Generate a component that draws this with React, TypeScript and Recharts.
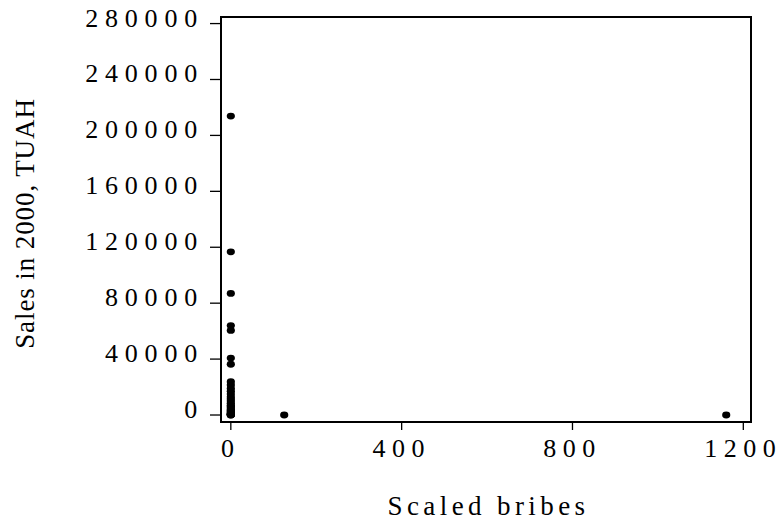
import React from 'react';
import { ScatterChart, Scatter, XAxis, YAxis, ReferenceArea, Label } from 'recharts';

const bribes = [0, 0, 0, 0, 0, 0, 0, 0, 0, 0, 0, 0, 0, 0, 0, 0, 0, 0, 0, 0, 0, 0, 0, 0, 0, 0, 0, 0, 0, 0, 125, 1160];
const sales = [213800, 116700, 87000, 64000, 60500, 40700, 36300, 23800, 21500, 19000, 17000, 15000, 13000, 11500, 10000, 8500, 7000, 6000, 5000, 4000, 3200, 2500, 1800, 1200, 800, 500, 300, 150, 50, 0, 0, 0];
const xTicks = [0, 400, 800, 1200];
const yTicks = [0, 40000, 80000, 120000, 160000, 200000, 240000, 280000];

const data = bribes.map((b, i) => ({ x: b, y: sales[i] }));

const FONT = '"Liberation Serif", "Times New Roman", serif';

const Dot = (props: any) => {
  const { cx, cy } = props;
  if (cx == null || cy == null) return null;
  return <ellipse cx={cx} cy={cy} rx={4.1} ry={3.4} fill="#000" />;
};

const XTick = (props: any) => {
  const { x, y, payload } = props;
  return (
    <text x={x} y={y} dy={25} textAnchor="middle" fontFamily={FONT} fontSize={26} letterSpacing={6.5} fill="#000">
      {payload.value}
    </text>
  );
};

const YTick = (props: any) => {
  const { x, y, payload } = props;
  return (
    <text x={x} y={y} dy={3} textAnchor="end" fontFamily={FONT} fontSize={26} letterSpacing={6.8} fill="#000">
      {payload.value}
    </text>
  );
};

export default function App() {
  return (
    <div style={{ position: 'absolute', left: 0, top: 0, background: '#fff' }}>
      <ScatterChart width={783} height={524} margin={{ top: 17, right: 32, bottom: 72, left: 161 }}>
        <XAxis
          type="number"
          dataKey="x"
          domain={[-23, 1218]}
          ticks={xTicks}
          allowDataOverflow
          axisLine={false}
          tickLine={{ stroke: '#000', strokeWidth: 1.3 }}
          tickSize={8}
          tickMargin={2}
          height={30}
          tick={<XTick />}
        >
          <Label
            content={(p: any) => {
              const vb = p.viewBox;
              return (
                <text x={vb.x + vb.width / 2 + 2.5} y={515} textAnchor="middle" fontFamily={FONT} fontSize={27} letterSpacing={4.4} fill="#000">
                  Scaled bribes
                </text>
              );
            }}
          />
        </XAxis>
        <YAxis
          type="number"
          dataKey="y"
          domain={[-5000, 284700]}
          ticks={yTicks}
          allowDataOverflow
          axisLine={false}
          tickLine={{ stroke: '#000', strokeWidth: 1.3 }}
          tickSize={11}
          tickMargin={6}
          width={60}
          tick={<YTick />}
        >
          <Label
            content={(p: any) => {
              const vb = p.viewBox;
              const cy = vb.y + vb.height / 2 + 4;
              return (
                <text x={34} y={cy} transform={`rotate(-90 34 ${cy})`} textAnchor="middle" fontFamily={FONT} fontSize={27} letterSpacing={0.9} fill="#000">
                  Sales in 2000, TUAH
                </text>
              );
            }}
          />
        </YAxis>
        <ReferenceArea x1={-23} x2={1218} y1={-5000} y2={284700} fill="none" stroke="#000" strokeWidth={2} ifOverflow="visible" />
        <Scatter data={data} shape={<Dot />} isAnimationActive={false} />
      </ScatterChart>
    </div>
  );
}
